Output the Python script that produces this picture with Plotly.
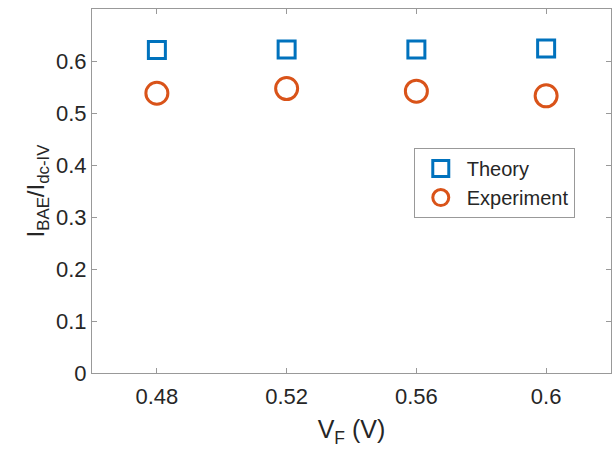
import plotly.graph_objects as go

vf = [0.48, 0.52, 0.56, 0.60]
theory = [0.621, 0.622, 0.622, 0.624]
experiment = [0.538, 0.547, 0.542, 0.533]
xticks = [0.48, 0.52, 0.56, 0.60]
xticklabels = ["0.48", "0.52", "0.56", "0.6"]
yticks = [0, 0.1, 0.2, 0.3, 0.4, 0.5, 0.6]
yticklabels = ["0", "0.1", "0.2", "0.3", "0.4", "0.5", "0.6"]

fig = go.Figure()
fig.add_trace(go.Scatter(x=vf, y=theory, mode="markers", name="Theory",
                         marker=dict(symbol="square-open", size=17, color="#0072BD",
                                     line=dict(width=3, color="#0072BD"))))
fig.add_trace(go.Scatter(x=vf, y=experiment, mode="markers", name="Experiment",
                         marker=dict(symbol="circle-open", size=22, color="#D95319",
                                     line=dict(width=3, color="#D95319"))))

axcommon = dict(showgrid=False, zeroline=False, showline=True, linecolor="#999999",
                linewidth=1, mirror="ticks", ticks="inside", ticklen=5,
                tickcolor="#999999", tickfont=dict(family="Liberation Sans, Arial", size=22, color="#262626"))

fig.update_layout(
    width=612, height=452,
    margin=dict(l=92, r=1, t=9, b=79),
    plot_bgcolor="white", paper_bgcolor="white",
    font=dict(family="Liberation Sans, Arial", color="#262626"),
    xaxis=dict(range=[0.46, 0.62], tickvals=xticks, ticktext=xticklabels,
               ticklabelstandoff=4,
               title=dict(text="V<sub>F</sub> (V)", font=dict(size=25), standoff=12), **axcommon),
    yaxis=dict(range=[0, 0.7], tickvals=yticks, ticktext=yticklabels,
               title=dict(text="I<sub>BAE</sub>/I<sub>dc-IV</sub>", font=dict(size=24), standoff=4), **axcommon),
    legend=dict(x=0.62, y=0.618, xanchor="left", yanchor="top",
                bordercolor="#999999", borderwidth=1, bgcolor="white",
                font=dict(size=20, color="#262626"), itemsizing="trace",
                itemwidth=42, tracegroupgap=0),
    showlegend=True,
)

fig.write_html("out.html")
